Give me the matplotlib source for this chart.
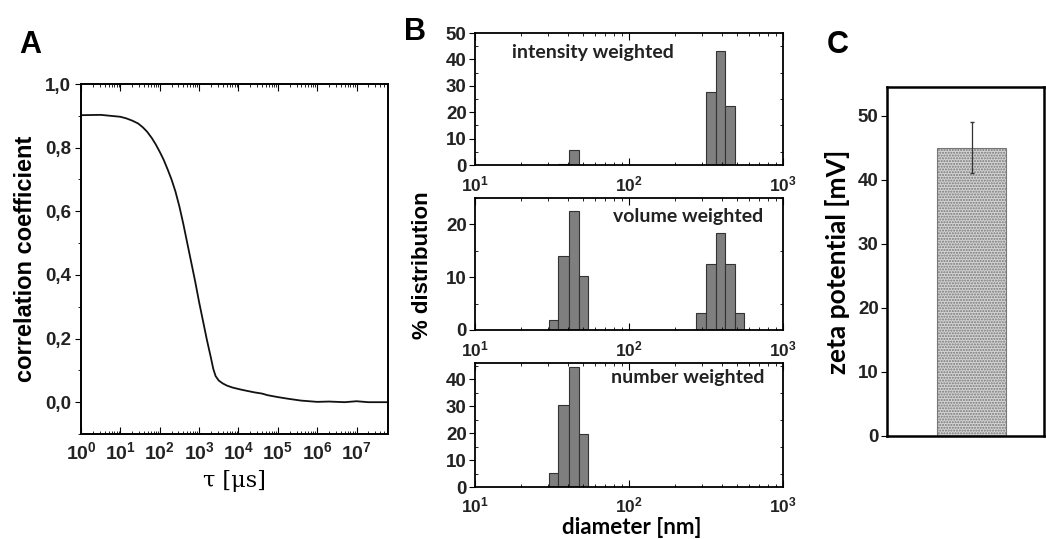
import numpy as np
import matplotlib
matplotlib.use("Agg")
import matplotlib.pyplot as plt
from matplotlib.ticker import FixedLocator, LogLocator, NullFormatter, AutoMinorLocator

plt.rcParams['font.family'] = ['Liberation Sans', 'DejaVu Sans']
plt.rcParams['mathtext.fontset'] = 'custom'
plt.rcParams['mathtext.rm'] = 'Liberation Sans'
plt.rcParams['mathtext.bf'] = 'Liberation Sans:bold'

# panel A: correlation function
log_tau = [0.0, 0.5, 1.0, 1.15, 1.3, 1.45, 1.57, 1.68, 1.8, 1.9, 2.0, 2.1, 2.2, 2.3, 2.4,
           2.5, 2.6, 2.7, 2.8, 2.9, 3.0, 3.1, 3.2, 3.3, 3.36, 3.42, 3.5, 3.6, 3.71, 3.85,
           4.05, 4.2, 4.4, 4.6, 4.74, 5.0, 5.25, 5.59, 6.0, 6.3, 6.7, 7.0, 7.3, 7.8]
corr = [0.902, 0.903, 0.897, 0.892, 0.885, 0.876, 0.864, 0.850, 0.830, 0.81, 0.787, 0.762,
        0.732, 0.70, 0.662, 0.615, 0.56, 0.50, 0.44, 0.38, 0.315, 0.255, 0.195, 0.14,
        0.105, 0.082, 0.068, 0.059, 0.052, 0.046, 0.04, 0.036, 0.031, 0.027, 0.022, 0.016,
        0.011, 0.005, 0.001, 0.002, 0.0, 0.003, 0.0, 0.0]

# panel B: size distributions (bin edges in nm, heights in %)
int_lo = [34.8, 41.0, 318, 369, 418]
int_hi = [41.0, 47.0, 369, 418, 485]
int_h = [0.3, 5.5, 27.8, 43.2, 22.5]

vol_lo = [30.4, 34.8, 41.0, 47.0, 273, 318, 369, 418, 485]
vol_hi = [34.8, 41.0, 47.0, 54.0, 318, 369, 418, 485, 558]
vol_h = [1.8, 14.1, 22.5, 10.3, 3.2, 12.5, 18.3, 12.5, 3.2]

num_lo = [30.4, 34.8, 41.0, 47.0]
num_hi = [34.8, 41.0, 47.0, 54.0]
num_h = [5.3, 30.3, 44.5, 19.5]

# panel C: zeta potential
zeta = [45.0]
zeta_err = [4.0]

W, H = 1046, 539
fig = plt.figure(figsize=(W / 100, H / 100), dpi=100)


def box(l, t, r, b):
    return [l / W, 1 - b / H, (r - l) / W, (b - t) / H]


tick_font = dict(fontsize=13.5, fontweight='bold', color='#222222')

# ---------- A ----------
axA = fig.add_axes(box(81, 84, 388, 434))
axA.plot(10 ** np.array(log_tau), corr, color='#111111', lw=1.3)
axA.set_xscale('log')
axA.set_xlim(1, 10 ** 7.8)
axA.set_ylim(-0.1, 1.0)
axA.set_yticks([0, 0.2, 0.4, 0.6, 0.8, 1.0])
axA.set_yticklabels(['0,0', '0,2', '0,4', '0,6', '0,8', '1,0'], **tick_font)
axA.yaxis.set_minor_locator(FixedLocator([-0.1, 0.1, 0.3, 0.5, 0.7, 0.9]))
axA.set_xticks([10 ** k for k in range(8)])
axA.set_xticklabels([r'$\mathbf{10^{%d}}$' % k for k in range(8)], fontsize=14, color='#222222')
axA.xaxis.set_minor_locator(LogLocator(base=10, subs=np.arange(2, 10), numticks=20))
axA.xaxis.set_minor_formatter(NullFormatter())
axA.tick_params(axis='x', which='both', direction='in', top=True, bottom=True)
axA.tick_params(axis='x', which='major', length=5, pad=5)
axA.tick_params(axis='x', which='minor', length=2.5)
axA.tick_params(axis='y', which='major', direction='out', length=4, pad=3)
axA.tick_params(axis='y', which='minor', direction='out', length=2)
for s in axA.spines.values():
    s.set_linewidth(1.4)
axA.set_ylabel('correlation coefficient', fontsize=17, fontweight='bold', labelpad=6)
axA.set_xlabel(r'τ [μs]', fontsize=16, family=['DejaVu Serif', 'DejaVu Sans'], labelpad=5)
fig.text(30 / W, 1 - 45 / H, 'A', fontsize=22, fontweight='bold', ha='center', va='center')

# ---------- B ----------
series = [
    (int_lo, int_hi, int_h, (33, 165), 50, [0, 10, 20, 30, 40, 50], 'intensity weighted', 0.12, 'left', 0.85, 7),
    (vol_lo, vol_hi, vol_h, (198, 330), 25, [0, 10, 20], 'volume weighted', 0.935, 'right', 0.86, 7),
    (num_lo, num_hi, num_h, (363, 487), 46, [0, 10, 20, 30, 40], 'number weighted', 0.94, 'right', 0.88, 6),
]
for lo, hi, h, (t, b), ymax, yt, label, tx, ha, ty, xpad in series:
    ax = fig.add_axes(box(475, t, 783, b))
    ax.bar(lo, h, width=np.array(hi) - np.array(lo), align='edge',
           color='#7f7f7f', edgecolor='#333333', linewidth=0.8)
    ax.set_xscale('log')
    ax.set_xlim(10, 1000)
    ax.set_ylim(0, ymax)
    ax.set_yticks(yt)
    ax.set_yticklabels([str(v) for v in yt], **tick_font)
    ax.yaxis.set_minor_locator(AutoMinorLocator(2))
    ax.set_xticks([10, 100, 1000])
    ax.set_xticklabels([r'$\mathbf{10^{%d}}$' % k for k in (1, 2, 3)], fontsize=12.5, color='#222222')
    ax.xaxis.set_minor_locator(LogLocator(base=10, subs=np.arange(2, 10), numticks=20))
    ax.xaxis.set_minor_formatter(NullFormatter())
    ax.tick_params(axis='x', which='both', direction='in', top=True, bottom=True, pad=xpad)
    ax.tick_params(axis='x', which='major', length=5)
    ax.tick_params(axis='x', which='minor', length=2.5)
    ax.tick_params(axis='y', which='major', direction='out', length=4, pad=2)
    ax.tick_params(axis='y', which='minor', direction='in', length=2, right=True)
    for s in ax.spines.values():
        s.set_linewidth(1.3)
    ax.text(tx, ty, label, transform=ax.transAxes, ha=ha, va='center',
            fontsize=14, fontweight='bold', family=['Lato', 'DejaVu Sans'], color='#222222')

fig.text(422 / W, 1 - 265 / H, '% distribution', rotation=90, fontsize=16, fontweight='bold',
         ha='center', va='center')
fig.text(632 / W, 1 - 534 / H, 'diameter [nm]', fontsize=16, fontweight='bold',
         family=['Lato', 'DejaVu Sans'], ha='center', va='baseline')
fig.text(415 / W, 1 - 32 / H, 'B', fontsize=22, fontweight='bold', ha='center', va='center')

# ---------- C ----------
axC = fig.add_axes(box(887, 87, 1044, 436))
axC.bar([0], zeta, width=0.6, yerr=zeta_err, color='#d4d4d4', edgecolor='#777777',
        hatch='......', linewidth=0.8, error_kw=dict(ecolor='#333333', elinewidth=0.9, capsize=1.5))
axC.set_xlim(-0.735, 0.625)
axC.set_ylim(0, 54.5)
axC.set_xticks([])
axC.set_yticks([0, 10, 20, 30, 40, 50])
axC.set_yticklabels(['0', '10', '20', '30', '40', '50'], **tick_font)
axC.tick_params(axis='y', direction='out', length=4, pad=2)
for s in axC.spines.values():
    s.set_linewidth(1.8)
axC.set_ylabel('zeta potential [mV]', fontsize=19, fontweight='bold',
               family=['Lato', 'DejaVu Sans'], labelpad=6)
fig.text(838 / W, 1 - 45 / H, 'C', fontsize=22, fontweight='bold', ha='center', va='center')

fig.savefig('out.png', dpi=100)
